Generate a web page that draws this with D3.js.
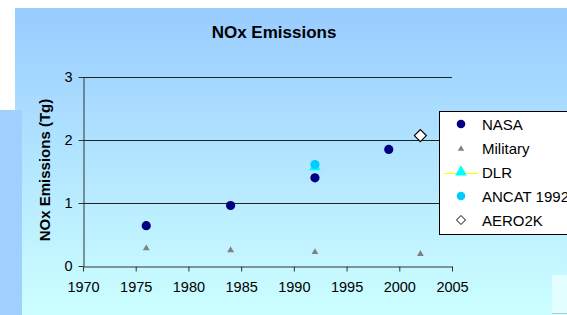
<!DOCTYPE html>
<html>
<head>
<meta charset="utf-8">
<script src="https://cdn.jsdelivr.net/npm/d3@7"></script>
<style>
  body { margin: 0; background: #fff; }
  svg { display: block; font-family: Arial, "Liberation Sans", sans-serif; }
</style>
</head>
<body>
<div id="chart"></div>
<script>
// chart data
const nasaYears = [1976, 1984, 1992, 1999];
const nasaVals = [0.64, 0.96, 1.40, 1.85];
const milYears = [1976, 1984, 1992, 2002];
const milVals = [0.28, 0.25, 0.22, 0.19];
const dlrYears = [1992];
const dlrVals = [1.57];
const ancatYears = [1992];
const ancatVals = [1.61];
const aeroYears = [2002];
const aeroVals = [2.07];

const xTicks = [1970, 1975, 1980, 1985, 1990, 1995, 2000, 2005];
const yTicks = [0, 1, 2, 3];
const legendNames = ["NASA", "Military", "DLR", "ANCAT 1992", "AERO2K"];

const w = 567, h = 315;
const plotL = 83, plotR = 452, plotT = 77, plotB = 266;

const svg = d3.select("#chart").append("svg")
  .attr("width", w)
  .attr("height", h);

// background gradient
const grad = svg.append("defs").append("linearGradient")
  .attr("id", "bg")
  .attr("x1", 0).attr("y1", 0).attr("x2", 0).attr("y2", 1);
grad.append("stop").attr("offset", "0%").attr("stop-color", "#99CCFF");
grad.append("stop").attr("offset", "100%").attr("stop-color", "#CCFFFF");

svg.append("rect")
  .attr("x", 15).attr("y", 8)
  .attr("width", w - 15).attr("height", h - 8)
  .attr("fill", "url(#bg)");

// left side panel and bottom-right box
svg.append("rect")
  .attr("x", 0).attr("y", 110)
  .attr("width", 22).attr("height", h - 110)
  .attr("fill", "#A0D0FF");
svg.append("rect")
  .attr("x", 552).attr("y", 275)
  .attr("width", 15).attr("height", 38)
  .attr("fill", "#E4FFFF");
svg.append("line")
  .attr("x1", 552).attr("x2", 567)
  .attr("y1", 313.5).attr("y2", 313.5)
  .attr("stroke", "#b8c8c8");

// scales
const xScale = d3.scaleLinear()
  .domain([1970, 2005])
  .range([plotL, plotR]);

const yScale = d3.scaleLinear()
  .domain([0, 3])
  .range([plotB, plotT]);

// gridlines
svg.append("g")
  .selectAll("line")
  .data(yTicks.filter(d => d > 0))
  .join("line")
  .attr("x1", plotL).attr("x2", plotR)
  .attr("y1", d => Math.round(yScale(d)) + 0.5)
  .attr("y2", d => Math.round(yScale(d)) + 0.5)
  .attr("stroke", "#222")
  .attr("stroke-width", 1);

// axes
const xAxis = d3.axisBottom(xScale)
  .tickValues(xTicks)
  .tickFormat(d3.format("d"))
  .tickSize(5)
  .tickSizeOuter(0)
  .tickPadding(10);

const yAxis = d3.axisLeft(yScale)
  .tickValues(yTicks)
  .tickFormat(d3.format("d"))
  .tickSize(5)
  .tickSizeOuter(0)
  .tickPadding(6);

const gx = svg.append("g")
  .attr("transform", "translate(0," + (Math.round(plotB) + 0.5) + ")")
  .call(xAxis);

const gy = svg.append("g")
  .attr("transform", "translate(" + (plotL + 0.5) + ",0)")
  .call(yAxis);

[gx, gy].forEach(g => {
  g.select(".domain").attr("stroke", "#333");
  g.selectAll(".tick line").attr("stroke", "#333");
  g.selectAll(".tick text")
    .attr("fill", "#000")
    .style("font-size", "14.5px")
    .style("font-family", "Arial, 'Liberation Sans', sans-serif");
});

// title
svg.append("text")
  .attr("x", 274).attr("y", 38)
  .attr("text-anchor", "middle")
  .style("font-size", "17px")
  .style("font-weight", "bold")
  .text("NOx Emissions");

// y axis label
svg.append("text")
  .attr("transform", "translate(50,170) rotate(-90)")
  .attr("text-anchor", "middle")
  .style("font-size", "15px")
  .style("font-weight", "bold")
  .text("NOx Emissions (Tg)");

// markers
const triangle = d3.symbol().type(d3.symbolTriangle);
const zip = (xs, ys) => xs.map((x, i) => [x, ys[i]]);

svg.append("g")
  .selectAll("path")
  .data(zip(milYears, milVals))
  .join("path")
  .attr("d", triangle.size(20)())
  .attr("transform", d => "translate(" + xScale(d[0]) + "," + yScale(d[1]) + ")")
  .attr("fill", "#808080");

svg.append("g")
  .selectAll("path")
  .data(zip(dlrYears, dlrVals))
  .join("path")
  .attr("d", triangle.size(60)())
  .attr("transform", d => "translate(" + xScale(d[0]) + "," + yScale(d[1]) + ")")
  .attr("fill", "#00FFFF");

svg.append("g")
  .selectAll("circle")
  .data(zip(ancatYears, ancatVals))
  .join("circle")
  .attr("cx", d => xScale(d[0]))
  .attr("cy", d => yScale(d[1]))
  .attr("r", 4.6)
  .attr("fill", "#00CCFF");

svg.append("g")
  .selectAll("circle")
  .data(zip(nasaYears, nasaVals))
  .join("circle")
  .attr("cx", d => xScale(d[0]))
  .attr("cy", d => yScale(d[1]))
  .attr("r", 4.6)
  .attr("fill", "#000080");

svg.append("g")
  .selectAll("path")
  .data(zip(aeroYears, aeroVals))
  .join("path")
  .attr("d", "M0,-6L6,0L0,6L-6,0Z")
  .attr("transform", d => "translate(" + xScale(d[0]) + "," + yScale(d[1]) + ")")
  .attr("fill", "#fff")
  .attr("stroke", "#000")
  .attr("stroke-width", 1.2);

// legend
const lg = svg.append("g");
lg.append("rect")
  .attr("x", 439.5).attr("y", 111.5)
  .attr("width", 140).attr("height", 123)
  .attr("fill", "#fff")
  .attr("stroke", "#000");

const legY = d3.scalePoint()
  .domain(legendNames)
  .range([124, 220]);
const symX = 461, txtX = 482;

const items = lg.selectAll("g.item")
  .data(legendNames)
  .join("g")
  .attr("class", "item")
  .attr("transform", d => "translate(0," + legY(d) + ")");

items.append("text")
  .attr("x", txtX).attr("y", 5.5)
  .style("font-size", "15px")
  .text(d => d);

items.each(function(d) {
  const g = d3.select(this);
  if (d === "NASA") {
    g.append("circle").attr("cx", symX).attr("r", 4.3).attr("fill", "#000080");
  } else if (d === "Military") {
    g.append("path").attr("d", triangle.size(18)())
      .attr("transform", "translate(" + symX + ",1)").attr("fill", "#808080");
  } else if (d === "DLR") {
    g.append("line").attr("x1", 444).attr("x2", 478).attr("y1", 1.5).attr("y2", 1.5)
      .attr("stroke", "#FFFF00").attr("stroke-width", 1.2);
    g.append("path").attr("d", triangle.size(60)())
      .attr("transform", "translate(" + symX + ",0)").attr("fill", "#00FFFF");
  } else if (d === "ANCAT 1992") {
    g.append("circle").attr("cx", symX).attr("r", 4.3).attr("fill", "#00CCFF");
  } else {
    g.append("path").attr("d", "M0,-4.5L4.5,0L0,4.5L-4.5,0Z")
      .attr("transform", "translate(" + symX + ",0)")
      .attr("fill", "#fff").attr("stroke", "#000").attr("stroke-width", 1);
  }
});

// white margin over the top-left
svg.append("rect")
  .attr("x", 0).attr("y", 0)
  .attr("width", 15).attr("height", 110)
  .attr("fill", "#fff");
</script>
</body>
</html>
